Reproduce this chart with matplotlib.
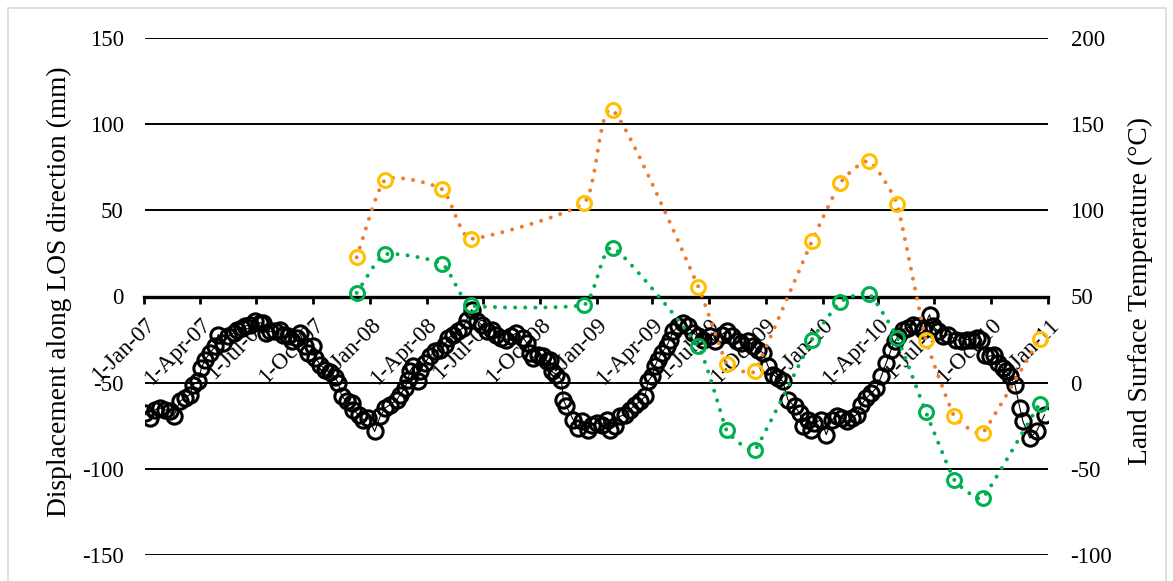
import numpy as np
import matplotlib
matplotlib.use("Agg")
import matplotlib.pyplot as plt
import matplotlib.dates as mdates
from matplotlib.path import Path
from matplotlib.patches import PathPatch, Rectangle

# LOS displacement time series (days after 1-Jan-07, mm)
disp_day = [1, 9, 17, 25, 33, 41, 47, 57, 65, 73, 79, 87, 92, 98, 106, 114, 119, 127, 135, 144,
            149, 157, 162, 170, 179, 187, 192, 197, 203, 211, 219, 224, 232, 238, 246, 251, 259, 265, 273, 276,
            284, 292, 300, 308, 313, 319, 327, 335, 337, 346, 354, 362, 372, 381, 389, 397, 408, 413, 421, 426,
            429, 434, 442, 445, 453, 461, 469, 478, 486, 491, 499, 507, 515, 521, 529, 537, 545, 553, 561, 569,
            577, 585, 593, 601, 612, 618, 623, 628, 636, 644, 650, 655, 658, 666, 674, 677, 682, 693, 701, 707,
            717, 723, 731, 739, 747, 752, 760, 768, 776, 785, 793, 801, 809, 814, 820, 825, 830, 836, 844, 849,
            855, 863, 871, 879, 887, 895, 903, 914, 922, 933, 941, 949, 957, 965, 976, 984, 992, 1000, 1008, 1016,
            1024, 1032, 1040, 1051, 1059, 1065, 1073, 1078, 1083, 1094, 1102, 1111, 1119, 1127, 1135, 1143, 1151, 1159, 1167, 1175,
            1183, 1191, 1199, 1207, 1213, 1218, 1226, 1234, 1242, 1250, 1258, 1269, 1275, 1283, 1291, 1299, 1312, 1321, 1329, 1337,
            1345, 1353, 1358, 1366, 1374, 1380, 1388, 1393, 1399, 1407, 1415, 1420, 1431, 1442, 1455]
disp_mm = [-67.6, -70.5, -65.7, -64.7, -65.7, -66.7, -69.6, -60.9, -58.9, -57.0, -51.2, -49.2, -41.5, -36.6, -32.7, -28.9, -22.1, -26.9, -23.1, -21.1,
           -19.2, -18.2, -17.3, -16.3, -14.4, -15.3, -15.3, -21.1, -20.2, -20.2, -19.2, -22.1, -23.1, -26.0, -24.0, -21.1, -28.9, -32.7, -28.9, -35.6,
           -39.5, -42.4, -44.0, -47.0, -50.0, -58.0, -60.9, -61.8, -65.7, -68.6, -71.5, -70.5, -78.3, -69.6, -64.7, -62.8, -59.9, -57.0, -53.1, -48.3,
           -43.4, -40.5, -49.2, -43.4, -38.5, -34.7, -31.8, -30.8, -27.9, -24.0, -22.1, -20.2, -18.2, -13.4, -7.6, -14.4, -16.3, -20.2, -19.2, -22.1,
           -24.0, -25.0, -23.1, -21.1, -24.0, -26.9, -32.7, -35.6, -33.7, -34.7, -37.6, -36.6, -43.4, -45.3, -48.3, -59.9, -63.8, -71.5, -76.3, -72.5,
           -77.3, -74.4, -73.4, -74.4, -71.5, -77.3, -75.4, -69.6, -68.6, -65.7, -62.8, -60.9, -58.0, -49.2, -46.3, -40.5, -36.6, -32.7, -28.9, -25.0,
           -20.2, -17.3, -15.3, -17.3, -21.1, -23.1, -25.0, -23.1, -26.0, -22.1, -20.2, -23.1, -26.0, -26.9, -26.0, -28.9, -30.8, -32.7, -40.5, -45.3,
           -47.3, -49.2, -59.9, -63.8, -67.6, -75.4, -71.5, -77.3, -73.4, -71.5, -80.2, -71.5, -69.6, -70.5, -72.5, -70.5, -68.6, -62.8, -58.9, -56.0,
           -53.1, -46.3, -38.5, -30.8, -26.0, -23.1, -19.2, -18.2, -16.3, -17.3, -19.2, -10.5, -17.3, -20.2, -23.1, -22.1, -25.0, -26.0, -25.0, -25.0,
           -24.0, -25.0, -33.7, -34.7, -33.7, -38.5, -41.5, -43.4, -46.3, -51.2, -64.7, -72.5, -82.1, -78.3, -68.6]

# Land surface temperature at the SAR acquisition dates (deg C)
lst_dates = ["2007-12-10", "2008-01-25", "2008-04-26", "2008-06-11", "2008-12-12", "2009-01-27",
             "2009-06-14", "2009-07-30", "2009-09-14", "2009-12-15", "2010-01-30", "2010-03-17",
             "2010-05-02", "2010-06-17", "2010-08-02", "2010-09-17", "2010-12-18"]
lst_high = [72.7, 117.6, 112.2, 83.5, 104.5, 158.0, 55.8, 10.9, 6.6, 82.2, 116.1, 128.5,
            103.5, 25.0, -19.6, -29.2, 25.4]
lst_low = [52.1, 74.4, 69.0, 44.8, 45.3, 78.3, 21.1, -27.7, -39.0, 25.0, 46.9, 51.7,
           26.0, -17.0, -56.4, -67.0, -12.2]

tick_dates = ["2007-01-01", "2007-04-01", "2007-07-01", "2007-10-01", "2008-01-01", "2008-04-01",
              "2008-07-01", "2008-10-01", "2009-01-01", "2009-04-01", "2009-07-01", "2009-10-01",
              "2010-01-01", "2010-04-01", "2010-07-01", "2010-10-01", "2011-01-01"]


def smooth_path(ax, x, y, k=0.18):
    # gently rounded Bezier through the points, built in screen space
    trans = ax.transData
    pts = trans.transform(np.column_stack([x, y]))
    n = len(pts)
    verts = [pts[0]]
    codes = [Path.MOVETO]
    for i in range(n - 1):
        p1, p2 = pts[i], pts[i + 1]
        seg = np.linalg.norm(p2 - p1)
        p0 = pts[i - 1] if i > 0 else p1
        p3 = pts[i + 2] if i + 2 < n else p2
        t1 = (p2 - p0) / np.linalg.norm(p2 - p0)
        t2 = (p3 - p1) / np.linalg.norm(p3 - p1)
        l1 = k * min(seg, np.linalg.norm(p1 - p0) if i > 0 else seg)
        l2 = k * min(seg, np.linalg.norm(p3 - p2) if i + 2 < n else seg)
        verts += [p1 + t1 * l1, p2 - t2 * l2, p2]
        codes += [Path.CURVE4] * 3
    data_verts = trans.inverted().transform(np.array(verts))
    return Path(data_verts, codes)


def main():
    plt.rcParams['font.family'] = ['Liberation Serif', 'DejaVu Serif']
    plt.rcParams['axes.unicode_minus'] = False

    fig = plt.figure(figsize=(11.73, 5.81), dpi=100)
    ax = fig.add_axes([144.5 / 1173, 1 - 555 / 581, (1048.3 - 144.5) / 1173, 517 / 581])
    ax2 = ax.twinx()

    # light chart border
    fig.patches.append(Rectangle((8 / 1173, -0.05), 1158 / 1173, 1 - 8 / 581 + 0.05,
                                 transform=fig.transFigure, fill=False,
                                 edgecolor='#d9d9d9', linewidth=1.2, zorder=0))

    ax.set_xlim(np.datetime64('2007-01-01'), np.datetime64('2011-01-01'))
    ax.set_ylim(-150, 150)
    ax2.set_ylim(-100, 200)

    t0 = np.datetime64('2007-01-01')
    disp_t = t0 + np.array(disp_day, dtype='timedelta64[D]')
    lst_t = np.array(lst_dates, dtype='datetime64[D]')

    ax.plot(disp_t, disp_mm, color='black', linewidth=0.8, marker='o', markersize=11,
            markerfacecolor='none', markeredgecolor='black', markeredgewidth=2.2, zorder=3)

    lst_x = mdates.date2num(lst_t)
    dot = (0, (0.01, 2.5))
    for vals, line_c, mark_c in [(lst_high, '#ED7D31', '#FFC000'), (lst_low, '#00B050', '#00B050')]:
        patch = PathPatch(smooth_path(ax2, lst_x, np.array(vals, float)), fill=False,
                          edgecolor=line_c, linewidth=2.9, linestyle=dot, capstyle='round', zorder=2)
        ax2.add_patch(patch)
        ax2.plot(lst_t, vals, linestyle='none', marker='o', markersize=10,
                 markerfacecolor='none', markeredgecolor=mark_c, markeredgewidth=2.2, zorder=3)

    ax.set_xlim(np.datetime64('2007-01-01'), np.datetime64('2011-01-01'))
    ax.set_yticks(range(-150, 151, 50))
    ax2.set_yticks(range(-100, 201, 50))

    ax.set_xticks(np.array(tick_dates, dtype='datetime64[D]'))
    ax.xaxis.set_major_formatter(mdates.DateFormatter('%-d-%b-%y'))

    ax.grid(axis='y', color='black', linewidth=1.4)
    ax.set_axisbelow(True)

    for a in (ax, ax2):
        for side in ('top', 'left', 'right'):
            a.spines[side].set_visible(False)
    ax2.spines['bottom'].set_visible(False)
    ax.spines['bottom'].set_position(('data', 0))
    ax.spines['bottom'].set_linewidth(2.4)
    ax.spines['bottom'].set_zorder(2.5)

    ax.tick_params(axis='y', length=0, pad=15, labelsize=16.5)
    ax2.tick_params(axis='y', length=0, pad=16, labelsize=16.5)
    ax.tick_params(axis='x', direction='out', length=5, width=2.0, pad=8, labelsize=16.5)
    for lab in ax.get_xticklabels():
        lab.set_rotation(45)
        lab.set_ha('right')
        lab.set_va('top')
        lab.set_rotation_mode('anchor')

    ax.set_ylabel('Displacement along LOS direction (mm)', fontsize=19.8)
    ax2.set_ylabel('Land Surface Temperature (°C)', fontsize=19.8)
    ax.yaxis.set_label_coords((72 - 144.5) / 903.8, 0.51)
    ax2.yaxis.set_label_coords((1128 - 144.5) / 903.8, 0.51)

    fig.savefig('out.png', dpi=100)


if __name__ == "__main__":
    main()
